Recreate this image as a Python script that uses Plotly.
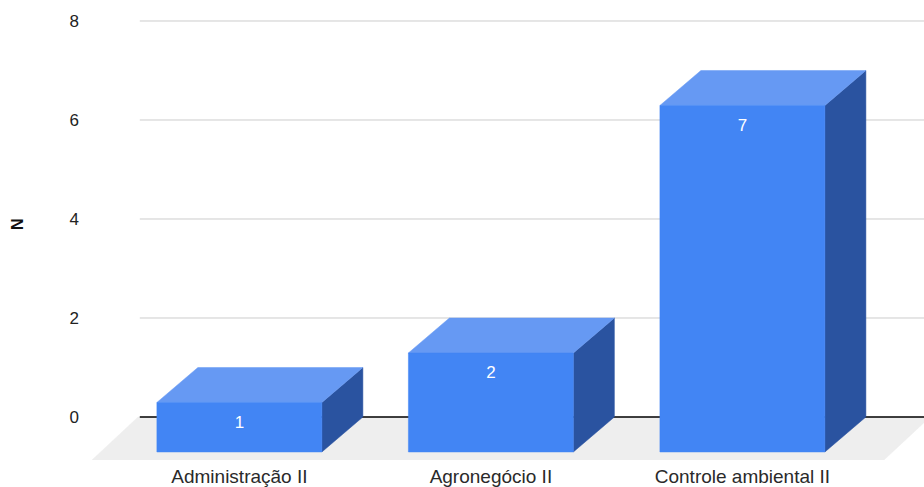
import plotly.graph_objects as go

categories = ["Administração II", "Agronegócio II", "Controle ambiental II"]
values = [1, 2, 7]
y_ticks = [0, 2, 4, 6, 8]

# 3D-look parameters, in axis units
BAR_W = 0.656
DEPTH_X = 0.163
DEPTH_Y = 0.707
FLOOR_LEFT = -0.586
FLOOR_RIGHT = 2.563
FLOOR_DROP = 0.869
GRID_LEFT = -0.396
LABEL_DROP = 0.42
X_RANGE = [-0.586, 2.722]
Y_RANGE = [-0.869, 8.222]

FRONT = "#4285f4"
TOP = "#6699f3"
SIDE = "#2a53a0"
FLOOR = "#eeeeee"
GRID = "#cccccc"
TEXT = "#222222"
FONT = "Liberation Sans"

fig = go.Figure()


def face(xs, ys, color):
    fig.add_trace(go.Scatter(
        x=xs + xs[:1], y=ys + ys[:1], mode="lines", fill="toself", fillcolor=color,
        line=dict(width=0.5, color=color), hoverinfo="skip", showlegend=False))


# floor
face([FLOOR_LEFT, FLOOR_RIGHT, FLOOR_RIGHT + DEPTH_X + 0.02, FLOOR_LEFT + DEPTH_X + 0.02],
     [-FLOOR_DROP, -FLOOR_DROP, 0, 0], FLOOR)

# gridlines and baseline (start right of the axis, like the back wall)
for t in y_ticks:
    fig.add_trace(go.Scatter(
        x=[GRID_LEFT, X_RANGE[1]], y=[t, t], mode="lines",
        line=dict(color="#000000" if t == 0 else GRID, width=1.5 if t == 0 else 1),
        hoverinfo="skip", showlegend=False))

# box faces computed from the values
for i, v in enumerate(values):
    l, r = i - BAR_W / 2, i + BAR_W / 2
    ft = v - DEPTH_Y
    fb = -DEPTH_Y
    face([r, r + DEPTH_X, r + DEPTH_X, r], [fb, 0, v, ft], SIDE)
    face([l, r, r + DEPTH_X, l + DEPTH_X], [ft, ft, v, v], TOP)
    face([l, r, r, l], [fb, fb, ft, ft], FRONT)

# value labels
fig.add_trace(go.Scatter(
    x=list(range(len(categories))), y=[v - DEPTH_Y - LABEL_DROP for v in values],
    mode="text", text=[str(v) for v in values], textposition="middle center",
    textfont=dict(color="#ffffff", size=17, family=FONT),
    hoverinfo="skip", showlegend=False))

fig.update_layout(
    width=924, height=487, autosize=False,
    margin=dict(l=92, r=0, t=10, b=27, autoexpand=False),
    paper_bgcolor="#ffffff", plot_bgcolor="rgba(0,0,0,0)",
    font=dict(family=FONT, color=TEXT, size=16),
    xaxis=dict(range=X_RANGE, tickmode="array", tickvals=list(range(len(categories))),
               ticktext=categories, showgrid=False, zeroline=False, showline=False,
               automargin=False,
               ticks="", ticklabelstandoff=3, tickfont=dict(size=19, color="#2a2a2a")),
    yaxis=dict(range=Y_RANGE, tickmode="array", tickvals=y_ticks, showgrid=False,
               zeroline=False, showline=False, ticks="", ticklabelstandoff=12,
               automargin=False,
               tickfont=dict(size=17)),
    annotations=[dict(text="<b>N</b>", textangle=-90, xref="paper", yref="y",
                      x=-0.089, y=3.9, xanchor="center", yanchor="middle",
                      showarrow=False, font=dict(size=16, color="#111111"))],
)
fig.write_html(
    "out.html",
    config={"displayModeBar": False},
    post_script="document.body.style.margin='0';document.documentElement.style.overflow='hidden';",
)
